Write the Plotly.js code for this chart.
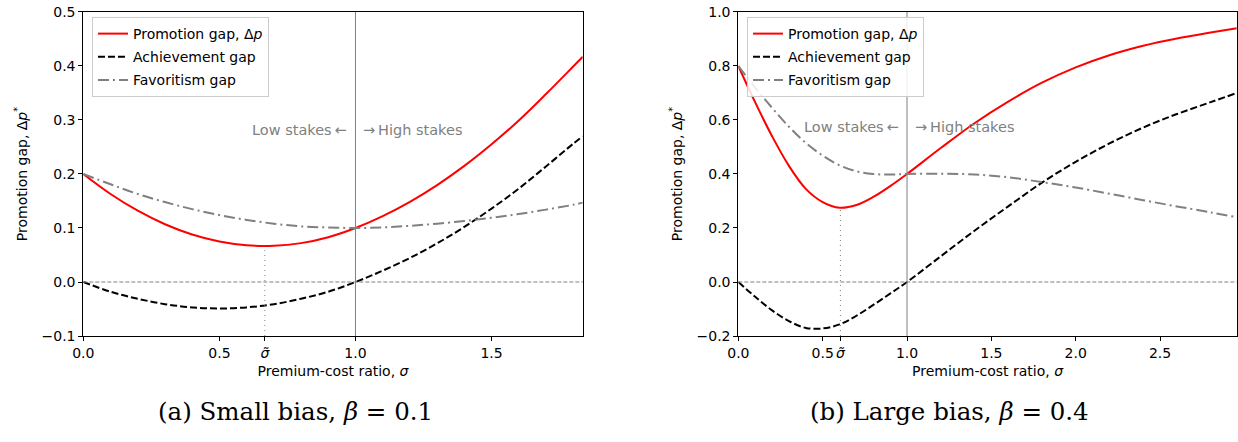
<!DOCTYPE html>
<html>
<head>
<meta charset="utf-8">
<script src="https://cdn.plot.ly/plotly-3.0.1.min.js"></script>
<style>
html,body{margin:0;padding:0;background:#fff;}
#chart{width:1238px;height:442px;}
</style>
</head>
<body>
<div id="chart"></div>
<script>
// ---------- Panel (a): small bias, beta = 0.1 ----------
const sigmaA = [0, 0.1, 0.2, 0.3, 0.4, 0.5, 0.6, 0.7, 0.8, 0.9, 1.0, 1.1, 1.2, 1.3, 1.4, 1.5, 1.6, 1.7, 1.8, 1.835];
const promoA = [0.200, 0.163, 0.132, 0.107, 0.088, 0.075, 0.068, 0.067, 0.072, 0.083, 0.100, 0.122, 0.1485, 0.1795, 0.215, 0.255, 0.299, 0.348, 0.399, 0.417];
const achA   = [0.000, -0.018, -0.031, -0.041, -0.047, -0.049, -0.047, -0.041, -0.031, -0.018, 0.000, 0.021, 0.0445, 0.0715, 0.102, 0.136, 0.173, 0.214, 0.256, 0.270];
const favA   = [0.200, 0.181, 0.163, 0.148, 0.135, 0.124, 0.115, 0.108, 0.103, 0.101, 0.100, 0.101, 0.104, 0.108, 0.113, 0.119, 0.126, 0.134, 0.143, 0.147];
const sigmaTildeA = 0.667;
const xTickValsA = [0, 0.5, sigmaTildeA, 1.0, 1.5];
const xTickTextA = ['0.0', '0.5', '<i>σ̃</i>', '1.0', '1.5'];
const xRangeA = [0, 1.835];
const yRangeA = [-0.1, 0.5];

// ---------- Panel (b): large bias, beta = 0.4 ----------
const sigmaB = [0, 0.1, 0.2, 0.3, 0.4, 0.5, 0.6, 0.7, 0.8, 0.9, 1.0, 1.2, 1.4, 1.6, 1.8, 2.0, 2.2, 2.4, 2.6, 2.8, 2.955];
const promoB = [0.800, 0.665, 0.540, 0.430, 0.345, 0.296, 0.275, 0.285, 0.315, 0.355, 0.400, 0.496, 0.588, 0.668, 0.738, 0.795, 0.840, 0.875, 0.902, 0.924, 0.940];
const achB   = [0.000, -0.055, -0.105, -0.145, -0.170, -0.172, -0.157, -0.125, -0.085, -0.043, 0.000, 0.095, 0.190, 0.280, 0.368, 0.445, 0.513, 0.572, 0.622, 0.666, 0.700];
const favB   = [0.800, 0.720, 0.645, 0.575, 0.515, 0.468, 0.432, 0.410, 0.400, 0.398, 0.400, 0.401, 0.398, 0.388, 0.370, 0.350, 0.327, 0.303, 0.280, 0.258, 0.240];
const sigmaTildeB = 0.605;
const xTickValsB = [0, 0.5, sigmaTildeB, 1.0, 1.5, 2.0, 2.5];
const xTickTextB = ['0.0', '0.5', '<i>σ̃</i>', '1.0', '1.5', '2.0', '2.5'];
const xRangeB = [0, 2.955];
const yRangeB = [-0.2, 1.0];

const seriesNames = ['Promotion gap, Δ<i>p</i>', 'Achievement gap', 'Favoritism gap'];
const captions = ['(a) Small bias, <i>β</i> = 0.1', '(b) Large bias, <i>β</i> = 0.4'];
const stakeLabels = ['Low stakes\u2009←', '→\u2009High stakes'];
const stakeY = [0.282, 0.575];

// ---------- styles ----------
const FONT = 'DejaVu Sans, sans-serif';
const styles = [
  {color: '#ff0000', width: 2, dash: 'solid'},
  {color: '#000000', width: 2, dash: '7px,3px'},
  {color: '#808080', width: 2, dash: '11px,4px,2px,4px'}
];

function traces(sig, ys, xa, ya, legendId) {
  return ys.map((y, i) => ({
    type: 'scatter', mode: 'lines', x: sig, y: y,
    name: seriesNames[i], xaxis: xa, yaxis: ya,
    legend: legendId, legendgroup: legendId + i,
    line: {color: styles[i].color, width: styles[i].width, dash: styles[i].dash, shape: 'spline', smoothing: 1},
    hoverinfo: 'skip'
  }));
}

const data = [
  ...traces(sigmaA, [promoA, achA, favA], 'x', 'y', 'legend'),
  ...traces(sigmaB, [promoB, achB, favB], 'x2', 'y2', 'legend2')
];

function xaxisDef(domain, range, tv, tt, anchor) {
  return {
    domain: domain, range: range, anchor: anchor,
    showgrid: false, zeroline: false,
    showline: true, linecolor: '#000', linewidth: 1, mirror: true,
    ticks: 'outside', ticklen: 4, tickwidth: 1, tickcolor: '#000',
    tickmode: 'array', tickvals: tv, ticktext: tt, tickangle: 0,
    tickfont: {family: FONT, size: 14, color: '#000'},
    title: {text: 'Premium-cost ratio, <i>σ</i>', font: {family: FONT, size: 14, color: '#000'}, standoff: 6},
    automargin: false, fixedrange: true
  };
}
function yaxisDef(range, dtick, anchor) {
  return {
    domain: [0.2398, 0.9729], range: range, anchor: anchor,
    showgrid: false, zeroline: false,
    showline: true, linecolor: '#000', linewidth: 1, mirror: true,
    ticks: 'outside', ticklen: 4, tickwidth: 1, tickcolor: '#000',
    dtick: dtick, tick0: 0, tickformat: '.1f',
    tickfont: {family: FONT, size: 14, color: '#000'},
    title: {text: 'Promotion gap, Δ<i>p</i><sup>*</sup>', font: {family: FONT, size: 14, color: '#000'}, standoff: 10},
    automargin: false, fixedrange: true
  };
}

function panelShapes(xa, ya, yr, st, promo) {
  const minP = Math.min(...promo);
  return [
    {type: 'line', xref: xa, yref: ya, x0: 1, x1: 1, y0: yr[0], y1: yr[1], line: {color: '#808080', width: 1}},
    {type: 'line', xref: xa + ' domain', yref: ya, x0: 0, x1: 1, y0: 0, y1: 0, line: {color: '#808080', width: 1, dash: '4px,2px'}},
    {type: 'line', xref: xa, yref: ya, x0: st, x1: st, y0: yr[0], y1: minP, line: {color: '#808080', width: 1, dash: '1px,4px'}}
  ];
}

function stakeAnn(xa, ya, y) {
  const f = {family: FONT, size: 14.5, color: '#808080'};
  return [
    {xref: xa, yref: ya, x: 1, y: y, text: stakeLabels[0], showarrow: false, xanchor: 'right', yanchor: 'middle', xshift: -6, font: f},
    {xref: xa, yref: ya, x: 1, y: y, text: stakeLabels[1], showarrow: false, xanchor: 'left', yanchor: 'middle', xshift: 6, font: f}
  ];
}

const legendStyle = (x) => ({
  x: x, y: 0.9615, xanchor: 'left', yanchor: 'top', xref: 'paper', yref: 'paper',
  bgcolor: 'rgba(255,255,255,0.85)', bordercolor: '#cccccc', borderwidth: 1,
  font: {family: FONT, size: 14, color: '#000'}, tracegroupgap: 2, itemwidth: 30
});

const capFont = {family: 'DejaVu Serif, serif', size: 24.5, color: '#000'};

const layout = {
  width: 1238, height: 442,
  margin: {l: 0, r: 0, t: 0, b: 0},
  paper_bgcolor: '#fff', plot_bgcolor: '#fff',
  showlegend: true,
  xaxis: xaxisDef([0.0673, 0.4707], xRangeA, xTickValsA, xTickTextA, 'y'),
  yaxis: yaxisDef(yRangeA, 0.1, 'x'),
  xaxis2: xaxisDef([0.5964, 0.9990], xRangeB, xTickValsB, xTickTextB, 'y2'),
  yaxis2: yaxisDef(yRangeB, 0.2, 'x2'),
  legend: legendStyle(0.0743),
  legend2: legendStyle(0.6034),
  shapes: [
    ...panelShapes('x', 'y', yRangeA, sigmaTildeA, promoA),
    ...panelShapes('x2', 'y2', yRangeB, sigmaTildeB, promoB)
  ],
  annotations: [
    ...stakeAnn('x', 'y', stakeY[0]),
    ...stakeAnn('x2', 'y2', stakeY[1]),
    {xref: 'paper', yref: 'paper', x: 0.239, y: 0.069, xanchor: 'center', yanchor: 'middle',
     text: captions[0], showarrow: false, font: capFont},
    {xref: 'paper', yref: 'paper', x: 0.767, y: 0.069, xanchor: 'center', yanchor: 'middle',
     text: captions[1], showarrow: false, font: capFont}
  ]
};

Plotly.newPlot('chart', data, layout, {staticPlot: true, displayModeBar: false});
</script>
</body>
</html>
